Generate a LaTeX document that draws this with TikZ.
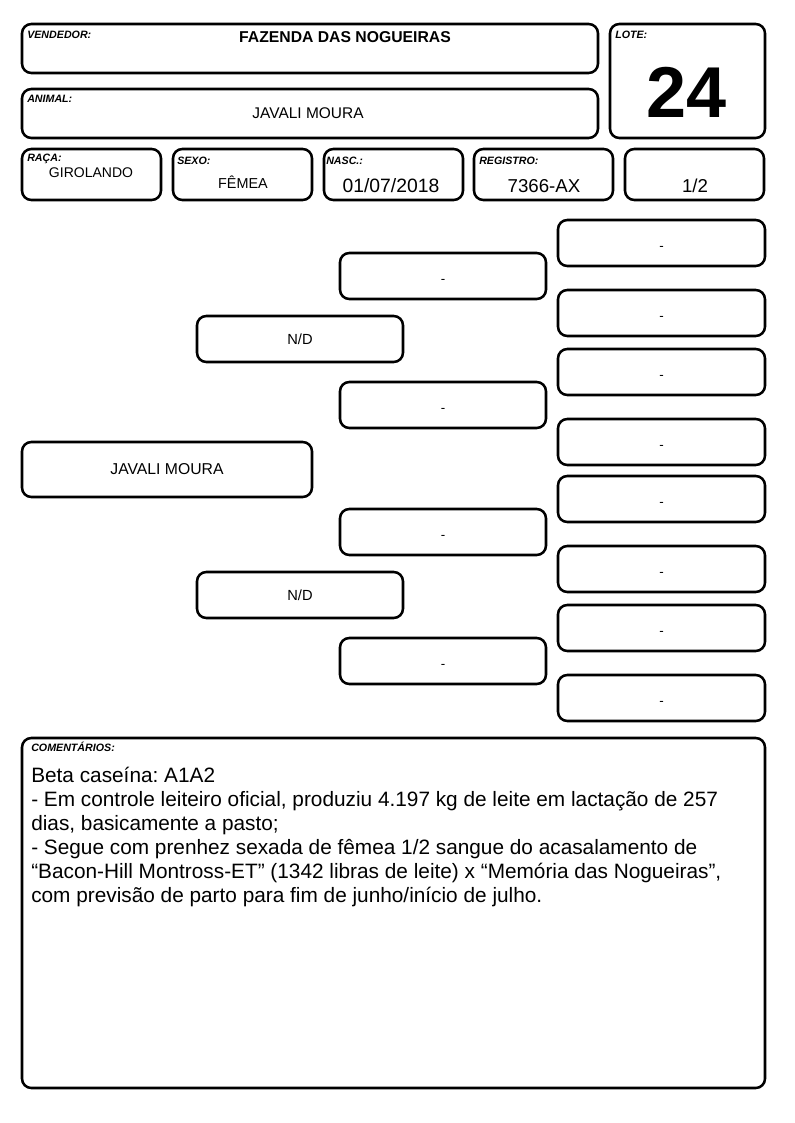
\documentclass[tikz,border=0pt]{standalone}
\usepackage{fontspec}
\setmainfont{Liberation Sans}
\usepackage{tikz}
\usetikzlibrary{fit}
\frenchspacing

\begin{document}
\begin{tikzpicture}[x=0.75pt,y=-0.75pt,
  cell/.style={draw,line width=1.9pt,rounded corners=7pt,inner sep=0pt},
  tag/.style={anchor=base west,inner sep=0pt,font=\bfseries\itshape\fontsize{8}{8}\selectfont},
  entry/.style={anchor=base,inner sep=0pt,font=\fontsize{#1}{#1}\selectfont},
  pedi/.style n args={3}{cell,minimum width=#1*0.75pt,minimum height=#2*0.75pt,
    font=\fontsize{#3}{#3}\selectfont},
  blank/.style={text height=11pt,text depth=0pt}]
\useasboundingbox (0,0) rectangle (794,1123);
% header
\node[cell,fit={(22,24) (598,73)}] (vend) {};
\node[cell,fit={(22,89) (598,138)}] (anim) {};
\node[cell,fit={(610,24) (765,138)}] (lote) {};
\foreach \x/\n in {22/raca,173/sexo,324/nasc,474/reg,625/frac}
  \node[cell,fit={(\x,149) (\x+139,200)}] (\n) {};
\node[tag] (vendtag) at (27,38.5) {VENDEDOR:};
\node[tag] (animtag) at (27,102.5) {ANIMAL:};
\node[tag] (lotetag) at (615,38.5) {LOTE:};
\node[tag] (racatag) at (27,161.5) {RAÇA:};
\node[tag] (sexotag) at (177,164.5) {SEXO:};
\node[tag] (nasctag) at (326,164.5) {NASC.:};
\node[tag] (regtag) at (479,164.5) {REGISTRO:};
\node[entry=11.8] (vendtxt) at (345,42.5) {\bfseries FAZENDA DAS NOGUEIRAS};
\node[entry=11.6] (animtxt) at (308,119) {JAVALI MOURA};
\node[entry=54] (lotetxt) at (687,118) {\bfseries 24};
\node[entry=10.5] (racatxt) at (91,178) {GIROLANDO};
\node[entry=10.8] (sexotxt) at (243,189) {FÊMEA};
\node[entry=14.5] (nasctxt) at (391,193) {01/07/2018};
\node[entry=14] (regtxt) at (544,193) {7366-AX};
\node[entry=14] (fractxt) at (695,193) {1/2};
% pedigree
\node[pedi={290}{55}{11.8}] (self) at (167,469.5) {JAVALI MOURA};
\foreach \y/\n in {339/sire,595/dam}
  \node[pedi={206}{46}{11}] (\n) at (300,\y) {N/D};
\foreach \y [count=\i] in {276,405,532,661}
  \node[pedi={206}{46}{10},blank] (gp\i) at (443,\y) {-};
\foreach \y [count=\i] in {243,313,372,442,499,569,628,698}
  \node[pedi={207}{46}{10},blank] (ggp\i) at (661.5,\y) {-};
% comments
\node[cell,fit={(22,738) (765,1088)}] (notes) {};
\node[tag] (notestag) at (31,751.5) {COMENTÁRIOS:};
\node[anchor=north west,inner sep=0pt,align=left,font=\fontsize{15.6}{18}\selectfont] (notestxt) at (31,762)
  {\rule{0pt}{15pt}Beta caseína: A1A2\\
   - Em controle leiteiro oficial, produziu 4.197 kg de leite em lactação de 257\\
   dias, basicamente a pasto;\\
   - Segue com prenhez sexada de fêmea 1/2 sangue do acasalamento de\\
   “Bacon-Hill Montross-ET” (1342 libras de leite) x “Memória das Nogueiras”,\\
   com previsão de parto para fim de junho/início de julho.};
\end{tikzpicture}
\end{document}
